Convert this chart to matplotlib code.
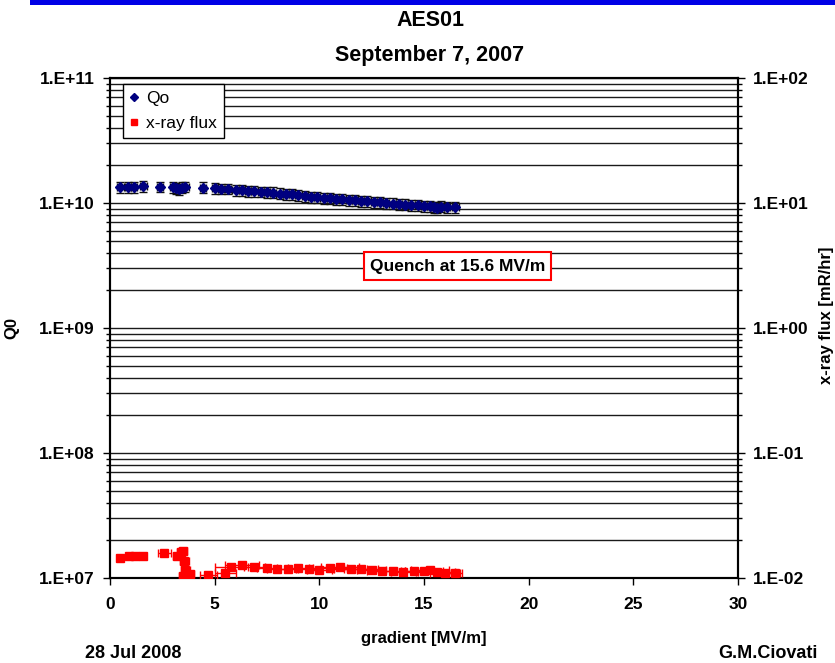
import matplotlib
matplotlib.use("Agg")
import matplotlib.pyplot as plt
from matplotlib.patches import Rectangle
from matplotlib.ticker import LogLocator, FixedLocator, FixedFormatter, NullFormatter
import numpy as np

plt.rcParams['font.family'] = ['Liberation Sans', 'DejaVu Sans']

# Cavity AES01 vertical test: Q0 and field-emission x-ray flux vs. gradient
gradient_q0 = [0.5, 0.85, 1.15, 1.6, 2.4, 3.0, 3.15, 3.3, 3.45, 3.6, 4.45, 5.0, 5.3, 5.65,
               6.0, 6.3, 6.6, 6.9, 7.2, 7.5, 7.8, 8.1, 8.4, 8.7, 9.0, 9.3, 9.6, 9.9,
               10.2, 10.5, 10.8, 11.1, 11.4, 11.7, 12.0, 12.3, 12.6, 12.9, 13.2, 13.5,
               13.8, 14.1, 14.4, 14.7, 15.0, 15.3, 15.5, 15.6, 15.8, 16.1, 16.5]
q0 = [1.34e10, 1.34e10, 1.34e10, 1.37e10, 1.35e10, 1.34e10, 1.31e10, 1.29e10, 1.33e10, 1.35e10,
      1.33e10, 1.31e10, 1.30e10, 1.30e10,
      1.27e10, 1.26e10, 1.25e10, 1.24e10, 1.23e10, 1.22e10, 1.21e10, 1.19e10, 1.18e10, 1.17e10,
      1.15e10, 1.14e10, 1.12e10, 1.11e10, 1.10e10, 1.09e10, 1.08e10, 1.07e10, 1.06e10, 1.05e10,
      1.04e10, 1.03e10, 1.02e10, 1.01e10, 1.00e10, 9.9e9, 9.8e9, 9.7e9, 9.6e9, 9.55e9,
      9.5e9, 9.4e9, 9.3e9, 9.2e9, 9.35e9, 9.3e9, 9.25e9]
q0_rel_err = 0.10
gradient_q0_err = 0.15

gradient_xray = [0.5, 0.9, 1.2, 1.6, 2.6, 3.2, 3.4, 3.5, 3.55, 3.6, 3.5, 3.8, 4.7, 5.5, 5.8,
                 6.3, 6.9, 7.5, 8.0, 8.5, 9.0, 9.5, 10.0, 10.5, 11.0, 11.5, 12.0, 12.5,
                 13.0, 13.5, 14.0, 14.5, 15.0, 15.3, 15.6, 16.0, 16.5]
xray_flux = [0.0145, 0.015, 0.015, 0.015, 0.0158, 0.015, 0.016, 0.0165, 0.0138, 0.0116, 0.0104,
             0.0107, 0.0106, 0.011, 0.0122, 0.0126, 0.0122, 0.0121, 0.0119, 0.0119, 0.0121,
             0.0117, 0.0115, 0.0121, 0.0122, 0.0119, 0.0117, 0.0115, 0.0113, 0.0113, 0.0111,
             0.0113, 0.0113, 0.0115, 0.0111, 0.0109, 0.0109]
gradient_xray_err = [0.1, 0.1, 0.1, 0.1, 0.3, 0.2, 0.2, 0.2, 0.2, 0.2, 0.2, 0.2, 0.4, 0.5, 0.8,
                     0.8, 0.5, 0.5, 0.5, 0.5, 0.5, 0.6, 0.6, 0.8, 0.9, 0.8, 0.8, 0.7,
                     0.7, 0.6, 0.6, 0.6, 0.9, 0.9, 0.9, 0.7, 0.3]
xray_rel_err = 0.03

x_ticks = [0, 5, 10, 15, 20, 25, 30]
q0_ticks = [1e7, 1e8, 1e9, 1e10, 1e11]
q0_tick_labels = ['1.E+07', '1.E+08', '1.E+09', '1.E+10', '1.E+11']
flux_ticks = [1e-2, 1e-1, 1e0, 1e1, 1e2]
flux_tick_labels = ['1.E-02', '1.E-01', '1.E+00', '1.E+01', '1.E+02']

W, H = 835, 663
fig = plt.figure(figsize=(W / 100, H / 100), dpi=100)
fig.patch.set_facecolor('white')

# slide header bar
fig.patches.append(Rectangle((30 / W, 1 - 5 / H), 1, 5 / H, transform=fig.transFigure,
                             facecolor='#0000e6', edgecolor='none'))

ax = fig.add_axes([110 / W, 1 - 578 / H, 628 / W, 500 / H])
ax2 = ax.twinx()

ax.set_xlim(0, 30)
ax.set_yscale('log')
ax.set_ylim(1e7, 1e11)
ax2.set_yscale('log')
ax2.set_ylim(1e-2, 1e2)

# horizontal grid at every major and minor decade step
ax.yaxis.set_major_locator(FixedLocator(q0_ticks))
ax.yaxis.set_major_formatter(FixedFormatter(q0_tick_labels))
ax.yaxis.set_minor_locator(LogLocator(base=10, subs=np.arange(2, 10)))
ax.yaxis.set_minor_formatter(NullFormatter())
ax.grid(True, which='both', axis='y', color='#1a1a1a', linewidth=1.0)
ax.grid(False, axis='x')
ax.set_axisbelow(True)

ax2.yaxis.set_major_locator(FixedLocator(flux_ticks))
ax2.yaxis.set_major_formatter(FixedFormatter(flux_tick_labels))
ax2.yaxis.set_minor_locator(LogLocator(base=10, subs=np.arange(2, 10)))
ax2.yaxis.set_minor_formatter(NullFormatter())

ax.set_xticks(x_ticks)
ax.set_xticklabels([str(t) for t in x_ticks])

for a in (ax, ax2):
    a.tick_params(axis='both', which='major', direction='out', length=5, width=1,
                  labelsize=12.5, pad=6)
    a.tick_params(axis='y', which='minor', direction='out', length=3, width=1)
    for lab in a.get_xticklabels() + a.get_yticklabels():
        lab.set_fontweight('bold')
    for s in a.spines.values():
        s.set_linewidth(1.5)
        s.set_color('black')
ax.tick_params(axis='x', pad=9)

# Q0 series
q0_arr = np.array(q0)
ax.errorbar(gradient_q0, q0, yerr=q0_arr * q0_rel_err, xerr=gradient_q0_err,
            fmt='none', ecolor='#101010', elinewidth=1.0, capsize=3, capthick=1.0, zorder=3)
ax.errorbar(gradient_q0, q0, xerr=gradient_q0_err, fmt='none', ecolor='#00008b',
            elinewidth=1.2, zorder=3)
ax.plot(gradient_q0, q0, linestyle='none', marker='D', markersize=5.5,
        color='#000080', zorder=4, label='Qo')

# x-ray flux series
flux_arr = np.array(xray_flux)
ax2.errorbar(gradient_xray, xray_flux, yerr=flux_arr * xray_rel_err, xerr=gradient_xray_err,
             fmt='none', ecolor='#ff0000', elinewidth=1.0, capsize=3, capthick=1.0, zorder=3)
ax2.plot(gradient_xray, xray_flux, linestyle='none', marker='s', markersize=5.5,
         color='#ff0000', zorder=4, label='x-ray flux')

# legend combining both axes
h1, l1 = ax.get_legend_handles_labels()
h2, l2 = ax2.get_legend_handles_labels()
leg = ax2.legend(h1 + h2, l1 + l2, loc='upper left', bbox_to_anchor=(13 / 628, 1 - 6 / 500),
                 frameon=True, fancybox=False, edgecolor='black', framealpha=1,
                 fontsize=12.5, handlelength=0.5, handletextpad=0.45, borderpad=0.4,
                 labelspacing=0.55, markerscale=0.7, borderaxespad=0)
leg.get_frame().set_linewidth(1.0)
leg.set_zorder(10)

# quench annotation
ax.text(16.6, 3.13e9, 'Quench at 15.6 MV/m', ha='center', va='center', fontsize=12.5,
        fontweight='bold', zorder=6,
        bbox=dict(boxstyle='square,pad=0.35', facecolor='white', edgecolor='#ff0000',
                  linewidth=1.5))

ax.set_xlabel('gradient [MV/m]', fontsize=12, fontweight='bold', labelpad=13)
ax.set_ylabel('Q0', fontsize=12, fontweight='bold', labelpad=14)
fig.text(826 / W, 1 - 315 / H, 'x-ray flux [mR/hr]', rotation=90, ha='center', va='center',
         fontsize=12, fontweight='bold')

fig.text(430 / W, 1 - 20 / H, 'AES01', ha='center', va='center', fontsize=15.5, fontweight='bold')
fig.text(430 / W, 1 - 55 / H, 'September 7, 2007', ha='center', va='center', fontsize=15.5,
         fontweight='bold')

# slide footer
fig.text(85 / W, 1 / H, '28 Jul 2008', ha='left', va='bottom', fontsize=13,
         fontweight='bold')
fig.text(718 / W, 1 / H, 'G.M.Ciovati', ha='left', va='bottom', fontsize=13,
         fontweight='bold')

fig.savefig('out.png', dpi=100)
